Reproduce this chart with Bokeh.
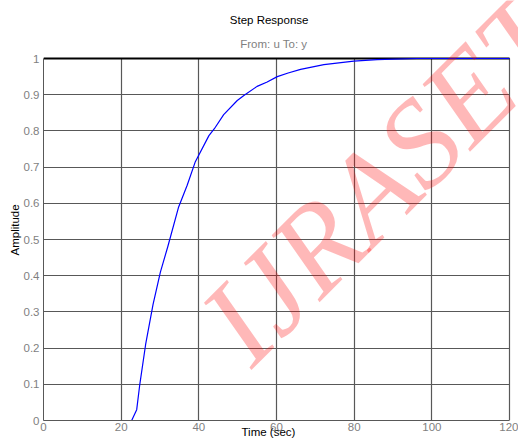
from bokeh.plotting import figure
from bokeh.models import Label, FixedTicker, Range1d, Title, Grid
from bokeh.embed import file_html
from bokeh.resources import INLINE

# ---- data ----
time_s = [0, 22.7, 24.0, 24.8, 26.3, 28.2, 30.1, 32.0, 34.8, 37.0, 39.1, 42.6, 44.0,
          46.4, 49.9, 51.6, 55.0, 57.6, 60.2, 63.0, 66.2, 72.2, 79.9, 85.9, 96.2, 120]
amplitude = [0, 0, 0.03, 0.10, 0.21, 0.32, 0.41, 0.48, 0.59, 0.65, 0.715, 0.787, 0.806,
             0.845, 0.884, 0.898, 0.923, 0.935, 0.950, 0.960, 0.970, 0.983, 0.993, 0.997, 1.0, 1.0]

x_ticks = [0, 20, 40, 60, 80, 100, 120]
x_tick_labels = ["0", "20", "40", "60", "80", "100", "120"]
y_ticks = [i / 10 for i in range(11)]
y_tick_labels = ["0", "0.1", "0.2", "0.3", "0.4", "0.5", "0.6", "0.7", "0.8", "0.9", "1"]

title_text = "Step Response"
subtitle_text = "From: u  To: y"
x_label = "Time (sec)"
y_label = "Amplitude"
watermark = "IJRASET"

FONT = "Liberation Sans"
GRID = "#585858"
GRAY_TXT = "#7f7f7f"
FS = "11.5px"

# axes box: x 0..120 over 466 px, y 0..1 over 362 px; the frame runs on to the
# canvas top and right edge so that the watermark is not cut at the axes box
X_END = 120 * 475 / 466
Y_END = 420 / 362
XB = (x_ticks[0], x_ticks[-1])
YB = (y_ticks[0], y_ticks[-1])

p = figure(width=518, height=440, output_backend="svg", toolbar_location=None,
           x_range=Range1d(0, X_END), y_range=Range1d(0, Y_END), title=None,
           min_border_left=43, min_border_right=0, min_border_top=0, min_border_bottom=20)
p.background_fill_color = "white"
p.border_fill_color = "white"
p.outline_line_color = None

for ax, ticks, labels in ((p.xaxis[0], x_ticks, x_tick_labels), (p.yaxis[0], y_ticks, y_tick_labels)):
    ax.ticker = FixedTicker(ticks=ticks)
    ax.major_label_overrides = {t: l for t, l in zip(ticks, labels)}
    ax.bounds = (ticks[0], ticks[-1])
    ax.major_tick_in = 0
    ax.major_tick_out = 0
    ax.minor_tick_in = 0
    ax.minor_tick_out = 0
    ax.axis_line_color = GRID
    ax.major_label_text_font = FONT
    ax.major_label_text_font_size = FS
    ax.major_label_text_color = GRAY_TXT
p.xaxis.major_label_standoff = 2
p.yaxis.major_label_standoff = 4

p.xgrid.ticker = FixedTicker(ticks=x_ticks)
p.ygrid.ticker = FixedTicker(ticks=y_ticks)
p.xgrid.bounds = XB
p.xgrid.cross_bounds = YB
p.ygrid.bounds = YB
p.ygrid.cross_bounds = XB
for g in (p.xgrid[0], p.ygrid[0]):
    g.grid_line_color = GRID
    g.grid_line_width = 1.2

# black top edge of the axes box
p.add_layout(Grid(dimension=1, ticker=FixedTicker(ticks=[y_ticks[-1]]),
                  bounds=YB, cross_bounds=XB, grid_line_color="black",
                  grid_line_width=2))

p.line(time_s, amplitude, line_color="#0000ff", line_width=1.2)

# axis titles as side titles so they can sit off-centre like the reference
p.add_layout(Title(text=y_label, align="left", offset=165, standoff=0,
                   text_font=FONT, text_font_size=FS, text_font_style="normal",
                   text_color="black"), "left")
p.add_layout(Title(text=x_label, align="left", vertical_align="top", offset=198, standoff=-16,
                   text_font=FONT, text_font_size=FS, text_font_style="normal",
                   text_color="black"), "below")

# titles inside the extended frame
p.add_layout(Label(x=58.1, y=1.1077, text=title_text, text_font=FONT, text_font_size=FS,
                   text_color="black", text_align="center", text_baseline="middle"))
p.add_layout(Label(x=59.7, y=1.0414, text=subtitle_text, text_font=FONT, text_font_size=FS,
                   text_color=GRAY_TXT, text_align="center", text_baseline="middle"))

# watermark
p.add_layout(Label(x=222, y=340, x_units="canvas", y_units="canvas", text=watermark,
                   angle=45, angle_units="deg",
                   text_font="Liberation Serif", text_font_style="italic",
                   text_font_size="124px", text_color="#ff0000", text_alpha=0.28,
                   text_align="left", text_baseline="alphabetic"))

open("out.html", "w").write(file_html(p, INLINE))
